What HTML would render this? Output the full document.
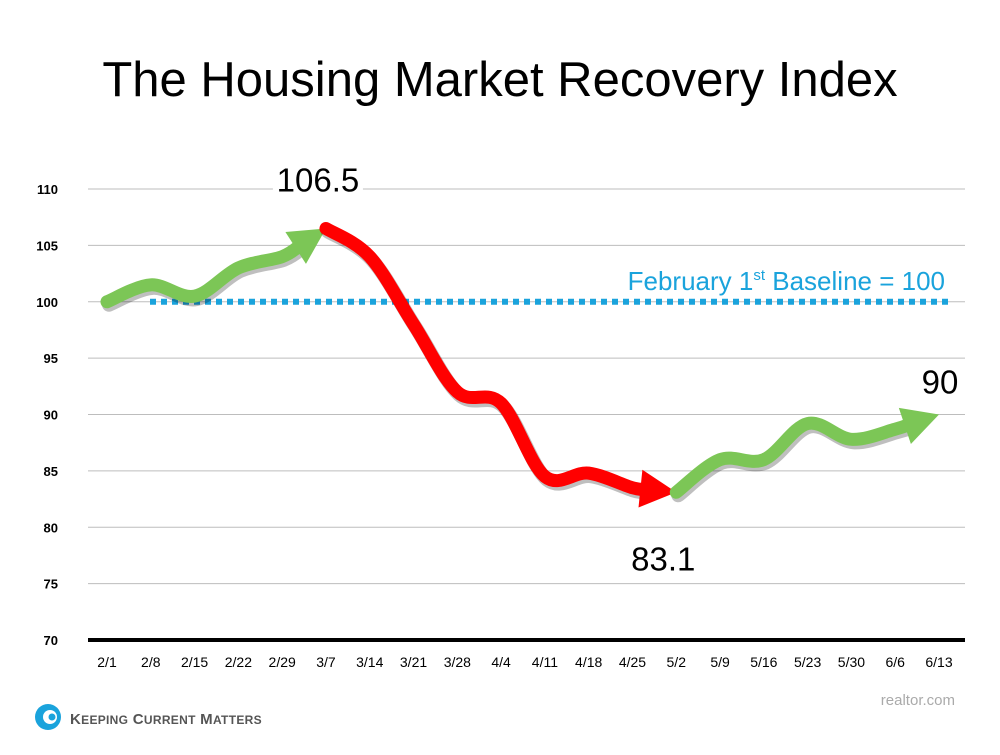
<!DOCTYPE html>
<html><head><meta charset="utf-8"><style>
body{margin:0;background:#fff;}
svg text{font-family:"Liberation Sans",sans-serif;}
</style></head><body>
<svg id="c" width="1000" height="750" viewBox="0 0 1000 750">
<text x="500" y="96" text-anchor="middle" font-size="49" fill="#000">The Housing Market Recovery Index</text>
<g id="grid"></g><g id="base"></g><g id="series"></g><g id="labels"></g>
<g>
<circle cx="48" cy="717" r="13" fill="#1aa3dc"/><circle cx="50" cy="717" r="7" fill="#fff"/><circle cx="52" cy="717" r="3.5" fill="#1aa3dc"/>
<text x="70" y="724" font-size="15" fill="#555" font-weight="bold" letter-spacing="0.3">K<tspan font-size="12">EEPING</tspan> C<tspan font-size="12">URRENT</tspan> M<tspan font-size="12">ATTERS</tspan></text>
</g>
<text x="955" y="705" text-anchor="end" font-size="15" fill="#aaa">realtor.com</text>
</svg>
<script>
const categories=["2/1","2/8","2/15","2/22","2/29","3/7","3/14","3/21","3/28","4/4","4/11","4/18","4/25","5/2","5/9","5/16","5/23","5/30","6/6","6/13"];
const values=[100,101.5,100.5,103,104,106.5,104,98,92,91,84.5,84.8,83.5,83.1,86,86,89.2,87.8,88.7,90];
const yTicks=[70,75,80,85,90,95,100,105,110];
const baseline=100;
const segments=[[0,5,"#7cc656"],[5,13,"#ff0000"],[13,19,"#7cc656"]];
const NS="http://www.w3.org/2000/svg";
const X=i=>107+i*(939-107)/(categories.length-1);
const Y=v=>640-(v-70)*(640-189)/40;
function mk(tag,attrs,parent){const e=document.createElementNS(NS,tag);for(const k in attrs)e.setAttribute(k,attrs[k]);parent.appendChild(e);return e;}
const grid=document.getElementById('grid');
yTicks.forEach(t=>{
 const l=mk('line',{x1:88,x2:965,y1:Y(t),y2:Y(t),stroke:t===70?'#000':'#bdbdbd','stroke-width':t===70?4:1},grid);
 
 
 const tx=mk('text',{x:58,y:Y(t)+5,'text-anchor':'end','font-size':13,'font-weight':'bold'},grid);
 tx.textContent=t;
 
 
});
categories.forEach((c,i)=>{
 const tx=mk('text',{x:X(i),y:667,'text-anchor':'middle','font-size':14},grid);
 tx.textContent=c;
 
 
});
const base=document.getElementById('base');
const bl=mk('line',{x1:150,x2:948,y1:Y(baseline),y2:Y(baseline),stroke:'#1aa3dc','stroke-width':6,'stroke-dasharray':'6 5'},base);


const bt=mk('text',{x:945,y:290,'text-anchor':'end','font-size':26,fill:'#1aa3dc'},base);
bt.innerHTML='February 1<tspan font-size="15" dy="-10">st</tspan><tspan dy="10"> Baseline = '+baseline+'</tspan>';


const ser=document.getElementById('series');
function curve(pts){let d='M'+pts[0][0]+','+pts[0][1];for(let i=0;i<pts.length-1;i++){const p0=pts[Math.max(0,i-1)],p1=pts[i],p2=pts[i+1],p3=pts[Math.min(pts.length-1,i+2)];
 d+=` C${p1[0]+(p2[0]-p0[0])/6},${p1[1]+(p2[1]-p0[1])/6} ${p2[0]-(p3[0]-p1[0])/6},${p2[1]-(p3[1]-p1[1])/6} ${p2[0]},${p2[1]}`;}return d;}
segments.forEach(([a,b,col],si)=>{
 const pts=[];for(let i=a;i<=b;i++)pts.push([X(i),Y(values[i])]);
 const last=pts[pts.length-1],prev=pts[pts.length-2];
 const dx=last[0]-prev[0],dy=last[1]-prev[1],L=Math.hypot(dx,dy),ux=dx/L,uy=dy/L;
 const hl=36;const cut=[last[0]-ux*hl*0.8,last[1]-uy*hl*0.8];
 const p2=pts.slice(0,-1).concat([cut]);
 const g=mk('g',{},ser);
 
 
 mk('path',{d:curve(p2),fill:'none',stroke:'rgba(0,0,0,0.25)','stroke-width':14,'stroke-linecap':'round',transform:'translate(2,3)'},g);
 mk('path',{d:curve(p2),fill:'none',stroke:col,'stroke-width':13,'stroke-linecap':'round'},g);
 const bx=last[0]-ux*hl,by=last[1]-uy*hl,px=-uy*19,py=ux*19;
 mk('polygon',{points:`${last[0]},${last[1]} ${bx+px},${by+py} ${bx-px},${by-py}`,fill:col},g);
});
const lab=document.getElementById('labels');
[[5,-8,-37],[13,-13,78],[19,1,-21]].forEach(([i,ox,oy])=>{
 const v=values[i],x=X(i)+ox,y=Y(v)+oy;
 mk('rect',{x:x-45,y:y-30,width:90,height:40,fill:'#fff'},lab);
 const t=mk('text',{x:x,y:y,'text-anchor':'middle','font-size':33},lab);
 t.textContent=String(v);
 
 
});
</script>
</body></html>
